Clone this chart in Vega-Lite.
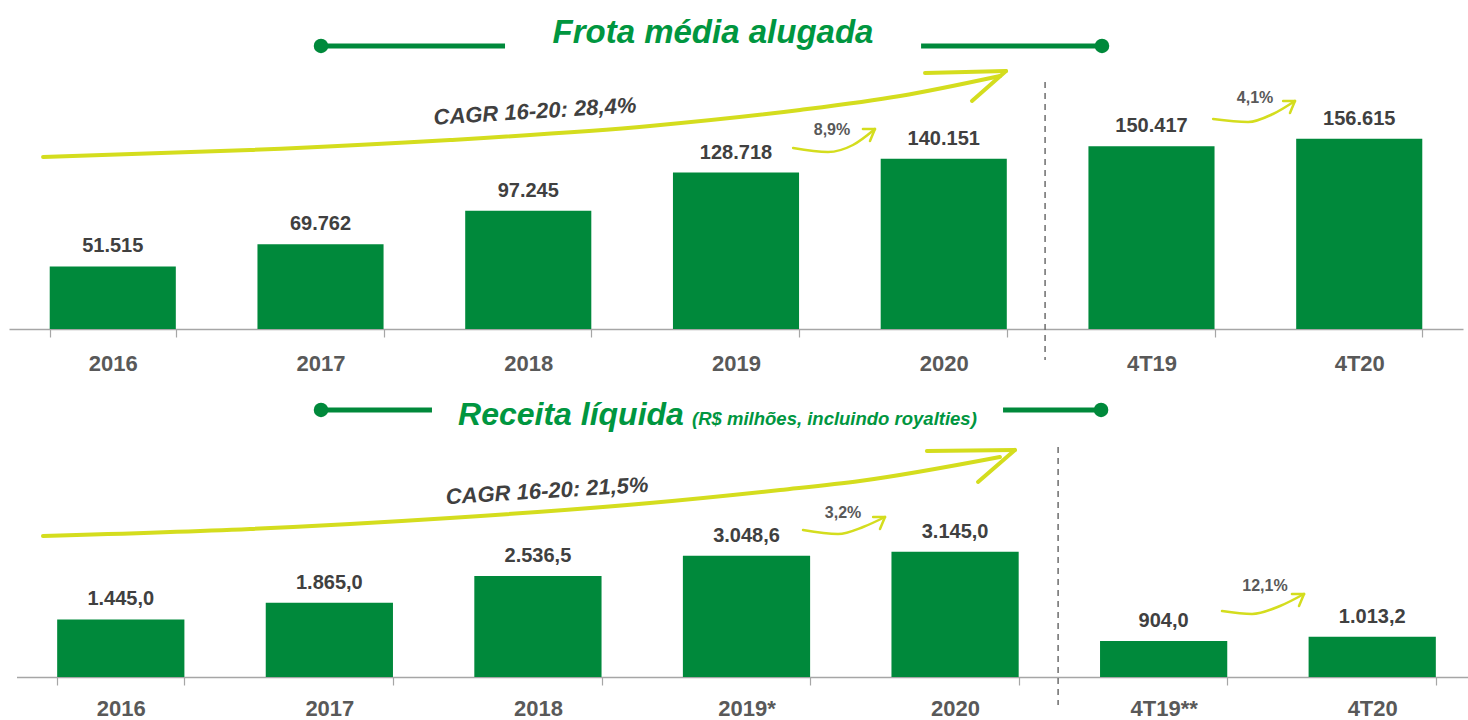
{
  "$schema": "https://vega.github.io/schema/vega-lite/v6.json",
  "width": 1468,
  "height": 720,
  "autosize": "none",
  "padding": 0,
  "background": "white",
  "config": {
    "view": {"stroke": null},
    "locale": {"number": {"decimal": ",", "thousands": ".", "grouping": [3], "currency": ["R$ ", ""]}},
    "text": {"font": "Liberation Sans"}
  },
  "datasets": {
    "top": [
      {"cat": "2016", "v": 51515}, {"cat": "2017", "v": 69762}, {"cat": "2018", "v": 97245},
      {"cat": "2019", "v": 128718}, {"cat": "2020", "v": 140151}, {"cat": "4T19", "v": 150417}, {"cat": "4T20", "v": 156615}
    ],
    "bottom": [
      {"cat": "2016", "v": 1445.0}, {"cat": "2017", "v": 1865.0}, {"cat": "2018", "v": 2536.5},
      {"cat": "2019*", "v": 3048.6}, {"cat": "2020", "v": 3145.0}, {"cat": "4T19**", "v": 904.0}, {"cat": "4T20", "v": 1013.2}
    ],
    "topDash": [{"seg": "d", "ux": 4.988, "vy": 203293}, {"seg": "d", "ux": 4.988, "vy": -25515}],
    "topTitleLines": [
      {"seg": "l", "ux": 1.502, "vy": 232923}, {"seg": "l", "ux": 2.388, "vy": 232923},
      {"seg": "r", "ux": 4.391, "vy": 232923}, {"seg": "r", "ux": 5.262, "vy": 232923}
    ],
    "topDots": [{"ux": 1.502, "vy": 232923}, {"ux": 5.262, "vy": 232923}],
    "topTitle": [{"t": "Frota média alugada", "ux": 3.389, "vy": 235392}],
    "topCagr": [
      {"seg": "c", "ux": 0.164, "vy": 141565}, {"seg": "c", "ux": 1.160, "vy": 147326}, {"seg": "c", "ux": 2.123, "vy": 155556},
      {"seg": "c", "ux": 3.086, "vy": 167079}, {"seg": "c", "ux": 3.808, "vy": 180248}, {"seg": "c", "ux": 4.290, "vy": 191771},
      {"seg": "c", "ux": 4.771, "vy": 208232},
      {"seg": "a1", "ux": 4.410, "vy": 210701}, {"seg": "a1", "ux": 4.800, "vy": 212347},
      {"seg": "a2", "ux": 4.636, "vy": 187655}, {"seg": "a2", "ux": 4.800, "vy": 212347}
    ],
    "topCagrText": [{"t": "CAGR 16-20: 28,4%", "ux": 2.532, "vy": 179013}],
    "topSmall": [
      {"seg": "p1", "ux": 3.775, "vy": 148972}, {"seg": "p1", "ux": 3.943, "vy": 145680}, {"seg": "p1", "ux": 4.063, "vy": 151441}, {"seg": "p1", "ux": 4.169, "vy": 164610},
      {"seg": "p1a", "ux": 4.111, "vy": 164610}, {"seg": "p1a", "ux": 4.169, "vy": 164610},
      {"seg": "p1b", "ux": 4.145, "vy": 154733}, {"seg": "p1b", "ux": 4.169, "vy": 164610},
      {"seg": "p2", "ux": 5.797, "vy": 172841}, {"seg": "p2", "ux": 5.965, "vy": 170371}, {"seg": "p2", "ux": 6.085, "vy": 176956}, {"seg": "p2", "ux": 6.191, "vy": 187655},
      {"seg": "p2a", "ux": 6.134, "vy": 187655}, {"seg": "p2a", "ux": 6.191, "vy": 187655},
      {"seg": "p2b", "ux": 6.167, "vy": 177779}, {"seg": "p2b", "ux": 6.191, "vy": 187655}
    ],
    "topPct": [{"t": "8,9%", "ux": 3.962, "vy": 163787}, {"t": "4,1%", "ux": 5.999, "vy": 190125}],
    "botDash": [{"seg": "d", "ux": 4.994, "vy": 5779}, {"seg": "d", "ux": 4.994, "vy": -704}],
    "botTitleLines": [
      {"seg": "l", "ux": 1.460, "vy": 6709}, {"seg": "l", "ux": 1.992, "vy": 6709},
      {"seg": "r", "ux": 4.730, "vy": 6709}, {"seg": "r", "ux": 5.200, "vy": 6709}
    ],
    "botDots": [{"ux": 1.460, "vy": 6709}, {"ux": 5.200, "vy": 6709}],
    "botTitle": [{"t": "Receita líquida", "ux": 2.117, "vy": 6332}],
    "botSubtitle": [{"t": "(R$ milhões, incluindo royalties)", "ux": 3.239, "vy": 6332}],
    "botCagr": [
      {"seg": "c", "ux": 0.127, "vy": 3543}, {"seg": "c", "ux": 1.120, "vy": 3719}, {"seg": "c", "ux": 2.078, "vy": 3995},
      {"seg": "c", "ux": 3.037, "vy": 4372}, {"seg": "c", "ux": 3.661, "vy": 4699}, {"seg": "c", "ux": 4.044, "vy": 4925},
      {"seg": "c", "ux": 4.715, "vy": 5528},
      {"seg": "a1", "ux": 4.365, "vy": 5678}, {"seg": "a1", "ux": 4.787, "vy": 5704},
      {"seg": "a2", "ux": 4.610, "vy": 4900}, {"seg": "a2", "ux": 4.787, "vy": 5704}
    ],
    "botCagrText": [{"t": "CAGR 16-20: 21,5%", "ux": 2.544, "vy": 4673}],
    "botSmall": [
      {"seg": "p1", "ux": 3.771, "vy": 3694}, {"seg": "p1", "ux": 3.939, "vy": 3593}, {"seg": "p1", "ux": 4.059, "vy": 3769}, {"seg": "p1", "ux": 4.164, "vy": 4020},
      {"seg": "p1a", "ux": 4.107, "vy": 4020}, {"seg": "p1a", "ux": 4.164, "vy": 4020},
      {"seg": "p1b", "ux": 4.140, "vy": 3719}, {"seg": "p1b", "ux": 4.164, "vy": 4020},
      {"seg": "p2", "ux": 5.780, "vy": 1658}, {"seg": "p2", "ux": 5.924, "vy": 1583}, {"seg": "p2", "ux": 6.058, "vy": 1784}, {"seg": "p2", "ux": 6.173, "vy": 2085},
      {"seg": "p2a", "ux": 6.115, "vy": 2085}, {"seg": "p2a", "ux": 6.173, "vy": 2085},
      {"seg": "p2b", "ux": 6.149, "vy": 1784}, {"seg": "p2b", "ux": 6.173, "vy": 2085}
    ],
    "botPct": [{"t": "3,2%", "ux": 3.963, "vy": 4121}, {"t": "12,1%", "ux": 5.986, "vy": 2286}]
  },
  "layer": [
    {
      "data": {"name": "top"},
      "encoding": {
        "x": {
          "field": "cat", "type": "nominal", "sort": null,
          "scale": {"range": [9, 1463], "paddingInner": 0.393, "paddingOuter": 0.196},
          "axis": {
            "orient": "bottom", "offset": -391, "title": null, "labelAngle": 0,
            "domainColor": "#a6a6a6", "domainWidth": 1.5, "tickColor": "#a6a6a6", "tickWidth": 1.2, "tickSize": 8,
            "tickBand": "extent", "labelFont": "Liberation Sans", "labelFontWeight": "bold", "labelFontSize": 22,
            "labelColor": "#595959", "labelPadding": 16
          }
        },
        "y": {
          "field": "v", "type": "quantitative",
          "scale": {"domain": [0, 200000], "range": [329, 86], "nice": false, "zero": true},
          "axis": null
        }
      },
      "layer": [
        {"mark": {"type": "bar", "color": "#00893B"}},
        {
          "mark": {"type": "text", "baseline": "alphabetic", "dy": -14, "fontSize": 20, "fontWeight": "bold", "color": "#404040", "font": "Liberation Sans"},
          "encoding": {"text": {"field": "v", "type": "quantitative", "format": ",.0f"}}
        }
      ]
    },
    {
      "encoding": {
        "x": {"field": "ux", "type": "quantitative", "scale": {"domain": [0, 7], "range": [9, 1463], "nice": false, "zero": false}, "axis": null},
        "y": {"field": "vy", "type": "quantitative", "scale": {"domain": [0, 200000], "range": [329, 86], "nice": false, "zero": true}, "axis": null}
      },
      "layer": [
        {"data": {"name": "topDash"}, "mark": {"type": "line", "color": "#6d6d6d", "strokeWidth": 1.5, "strokeDash": [6, 5]}, "encoding": {"detail": {"field": "seg"}}},
        {"data": {"name": "topTitleLines"}, "mark": {"type": "line", "color": "#00893B", "strokeWidth": 5}, "encoding": {"detail": {"field": "seg"}}},
        {"data": {"name": "topDots"}, "mark": {"type": "point", "filled": true, "opacity": 1, "size": 210, "color": "#00893B"}},
        {"data": {"name": "topTitle"}, "mark": {"type": "text", "align": "center", "baseline": "alphabetic", "fontSize": 33, "fontWeight": "bold", "fontStyle": "italic", "color": "#009640", "font": "Liberation Sans"}, "encoding": {"text": {"field": "t"}}},
        {"data": {"name": "topCagr"}, "mark": {"type": "line", "color": "#D4DD1E", "strokeWidth": 4, "interpolate": "monotone", "strokeCap": "round"}, "encoding": {"detail": {"field": "seg"}}},
        {"data": {"name": "topCagrText"}, "mark": {"type": "text", "align": "center", "baseline": "middle", "angle": -3.5, "fontSize": 22, "fontWeight": "bold", "fontStyle": "italic", "color": "#404040", "font": "Liberation Sans"}, "encoding": {"text": {"field": "t"}}},
        {"data": {"name": "topSmall"}, "mark": {"type": "line", "color": "#D4DD1E", "strokeWidth": 2.5, "interpolate": "monotone", "strokeCap": "round"}, "encoding": {"detail": {"field": "seg"}}},
        {"data": {"name": "topPct"}, "mark": {"type": "text", "align": "center", "baseline": "middle", "fontSize": 16, "fontWeight": "bold", "color": "#595959", "font": "Liberation Sans"}, "encoding": {"text": {"field": "t"}}}
      ]
    },
    {
      "data": {"name": "bottom"},
      "encoding": {
        "x": {
          "field": "cat", "type": "nominal", "sort": null,
          "scale": {"range": [16.5, 1476.5], "paddingInner": 0.39, "paddingOuter": 0.195},
          "axis": {
            "orient": "bottom", "offset": -43, "title": null, "labelAngle": 0,
            "domainColor": "#a6a6a6", "domainWidth": 1.5, "tickColor": "#a6a6a6", "tickWidth": 1.2, "tickSize": 8,
            "tickBand": "extent", "labelFont": "Liberation Sans", "labelFontWeight": "bold", "labelFontSize": 22,
            "labelColor": "#595959", "labelPadding": 13
          }
        },
        "y": {
          "field": "v", "type": "quantitative",
          "scale": {"domain": [0, 4000], "range": [677, 517.8], "nice": false, "zero": true},
          "axis": null
        }
      },
      "layer": [
        {"mark": {"type": "bar", "color": "#00893B"}},
        {
          "mark": {"type": "text", "baseline": "alphabetic", "dy": -14, "fontSize": 20, "fontWeight": "bold", "color": "#404040", "font": "Liberation Sans"},
          "encoding": {"text": {"field": "v", "type": "quantitative", "format": ",.1f"}}
        }
      ]
    },
    {
      "encoding": {
        "x": {"field": "ux", "type": "quantitative", "scale": {"domain": [0, 7], "range": [16.5, 1476.5], "nice": false, "zero": false}, "axis": null},
        "y": {"field": "vy", "type": "quantitative", "scale": {"domain": [0, 4000], "range": [677, 517.8], "nice": false, "zero": true}, "axis": null}
      },
      "layer": [
        {"data": {"name": "botDash"}, "mark": {"type": "line", "color": "#6d6d6d", "strokeWidth": 1.5, "strokeDash": [6, 5]}, "encoding": {"detail": {"field": "seg"}}},
        {"data": {"name": "botTitleLines"}, "mark": {"type": "line", "color": "#00893B", "strokeWidth": 5}, "encoding": {"detail": {"field": "seg"}}},
        {"data": {"name": "botDots"}, "mark": {"type": "point", "filled": true, "opacity": 1, "size": 210, "color": "#00893B"}},
        {"data": {"name": "botTitle"}, "mark": {"type": "text", "align": "left", "baseline": "alphabetic", "fontSize": 32, "fontWeight": "bold", "fontStyle": "italic", "color": "#009640", "font": "Liberation Sans"}, "encoding": {"text": {"field": "t"}}},
        {"data": {"name": "botSubtitle"}, "mark": {"type": "text", "align": "left", "baseline": "alphabetic", "fontSize": 18.5, "fontWeight": "bold", "fontStyle": "italic", "color": "#009640", "font": "Liberation Sans"}, "encoding": {"text": {"field": "t"}}},
        {"data": {"name": "botCagr"}, "mark": {"type": "line", "color": "#D4DD1E", "strokeWidth": 4, "interpolate": "monotone", "strokeCap": "round"}, "encoding": {"detail": {"field": "seg"}}},
        {"data": {"name": "botCagrText"}, "mark": {"type": "text", "align": "center", "baseline": "middle", "angle": -3.5, "fontSize": 22, "fontWeight": "bold", "fontStyle": "italic", "color": "#404040", "font": "Liberation Sans"}, "encoding": {"text": {"field": "t"}}},
        {"data": {"name": "botSmall"}, "mark": {"type": "line", "color": "#D4DD1E", "strokeWidth": 2.5, "interpolate": "monotone", "strokeCap": "round"}, "encoding": {"detail": {"field": "seg"}}},
        {"data": {"name": "botPct"}, "mark": {"type": "text", "align": "center", "baseline": "middle", "fontSize": 16, "fontWeight": "bold", "color": "#595959", "font": "Liberation Sans"}, "encoding": {"text": {"field": "t"}}}
      ]
    }
  ],
  "resolve": {"scale": {"x": "independent", "y": "independent"}, "axis": {"x": "independent", "y": "independent"}}
}
